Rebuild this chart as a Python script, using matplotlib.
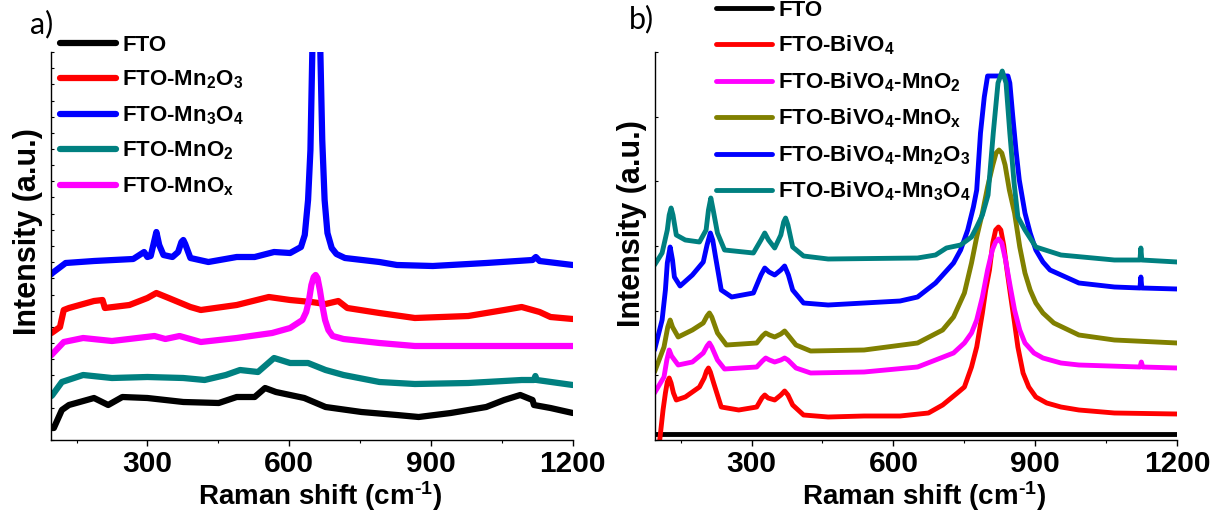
import matplotlib
matplotlib.use("Agg")
import matplotlib.pyplot as plt
from matplotlib.ticker import MultipleLocator
import numpy as np

plt.rcParams['font.family'] = ['Liberation Sans', 'DejaVu Sans']
plt.rcParams['font.weight'] = 'bold'
plt.rcParams['mathtext.fontset'] = 'custom'
plt.rcParams['mathtext.rm'] = 'Liberation Sans:bold'
plt.rcParams['mathtext.it'] = 'Liberation Sans:bold'
plt.rcParams['mathtext.bf'] = 'Liberation Sans:bold'
plt.rcParams['mathtext.default'] = 'rm'

# ---- panel a) spectra (intensity in a.u., read off the picture) ----
a_fto_x = [97, 102, 119, 134, 187, 217, 247, 300, 376, 451, 489, 527, 549, 572, 602, 632, 677, 753, 828,
           874, 942, 1017, 1055, 1089, 1115, 1118, 1153, 1200]
a_fto_y = [12, 12, 30, 35, 42, 35, 43, 42, 38, 37, 43, 43, 52, 48, 45, 42, 33, 28, 25,
           23, 27, 33, 40, 45, 40, 35, 32, 27]

a_mn2o3_x = [97, 100, 115, 123, 134, 187, 205, 210, 262, 300, 319, 345, 391, 413, 489, 557, 602, 647, 677,
             704, 723, 791, 866, 979, 1055, 1092, 1130, 1153, 1200]
a_mn2o3_y = [107, 108, 113, 130, 132, 139, 140, 132, 135, 142, 147, 142, 133, 130, 135, 143, 140, 138, 136,
             139, 132, 127, 122, 124, 130, 133, 128, 123, 121]

a_mn3o4_x = [97, 99, 127, 187, 270, 293, 300, 307, 313, 319, 325, 334, 353, 365, 372, 376, 380, 391, 429,
             489, 527, 568, 602, 625, 633, 640, 645, 649, 657, 666, 670, 675, 681, 690, 700, 718, 791, 828,
             904, 1017, 1115, 1122, 1130, 1200]
a_mn3o4_y = [166, 167, 177, 179, 181, 188, 183, 184, 196, 208, 195, 185, 183, 188, 198, 200, 196, 182, 178,
             183, 183, 188, 187, 193, 205, 240, 290, 388, 470, 388, 300, 240, 207, 192, 186, 182, 178, 175,
             174, 177, 180, 183, 179, 175]

a_mno2_x = [97, 99, 119, 164, 225, 300, 376, 421, 466, 496, 534, 568, 602, 640, 677, 715, 791, 866, 979,
            1092, 1118, 1121, 1124, 1200]
a_mno2_y = [44, 45, 58, 65, 62, 63, 62, 60, 65, 70, 68, 82, 77, 77, 70, 65, 58, 56, 57,
            60, 60, 64, 60, 55]

a_mnox_x = [97, 99, 123, 164, 225, 315, 338, 368, 413, 489, 564, 602, 628, 636, 642, 647, 652, 656, 660,
            665, 670, 676, 683, 692, 715, 791, 866, 1055, 1200]
a_mnox_y = [85, 86, 98, 102, 99, 104, 101, 104, 98, 102, 107, 112, 120, 128, 140, 155, 163, 165, 162,
            150, 135, 120, 110, 104, 101, 97, 94, 94, 94]

# ---- panel b) spectra ----
b_fto_x = [95, 300, 600, 900, 1200]
b_fto_y = [6, 6, 6, 6, 6]

b_bivo4_x = [100, 106, 113, 118, 122, 126, 130, 135, 141, 160, 190, 200, 205, 209, 213, 220, 236, 273,
             311, 322, 328, 335, 349, 362, 370, 377, 387, 410, 462, 538, 614, 674, 704, 735, 750, 765,
             776, 788, 795, 803, 810, 816, 822, 827, 833, 840, 848, 856, 863, 874, 886, 901, 924, 954,
             992, 1067, 1200]
b_bivo4_y = [-25, 0, 30, 47, 58, 62, 57, 47, 40, 43, 53, 62, 69, 72, 68, 57, 33, 30,
             33, 42, 45, 42, 40, 45, 49, 45, 35, 25, 23, 24, 24, 27, 35, 47, 53, 73,
             93, 127, 150, 170, 197, 210, 213, 210, 195, 170, 143, 117, 93, 67, 53, 43, 37, 33,
             30, 27, 26]

b_mno2_x = [95, 115, 121, 126, 131, 145, 175, 198, 206, 211, 216, 228, 243, 311, 323, 330, 338, 349, 362,
            370, 377, 394, 425, 538, 651, 727, 750, 765, 776, 788, 799, 809, 816, 822, 829, 837, 847,
            856, 867, 878, 897, 916, 954, 992, 1121, 1124, 1127, 1200]
b_mno2_y = [47, 63, 80, 90, 84, 75, 78, 87, 94, 97, 93, 80, 71, 73, 79, 82, 80, 78, 80,
            82, 80, 72, 67, 68, 73, 87, 97, 107, 120, 143, 170, 190, 198, 201, 197, 180, 153,
            130, 110, 97, 87, 82, 77, 75, 73, 78, 73, 72]

b_mnox_x = [95, 115, 123, 128, 133, 145, 175, 198, 206, 211, 216, 228, 247, 311, 323, 330, 338, 349, 362,
            370, 377, 394, 425, 538, 651, 704, 727, 750, 765, 776, 788, 799, 810, 817, 823, 829, 836, 845,
            856, 867, 878, 889, 901, 916, 939, 992, 1067, 1200]
b_mnox_y = [68, 93, 113, 120, 113, 103, 110, 117, 124, 127, 123, 107, 95, 97, 104, 107, 105, 103, 106,
            109, 105, 95, 89, 90, 97, 110, 123, 147, 177, 203, 227, 253, 275, 287, 290, 287, 275, 250,
            227, 193, 167, 150, 137, 127, 117, 105, 100, 97]

b_mn2o3_x = [95, 111, 118, 122, 128, 133, 137, 149, 175, 198, 206, 213, 218, 224, 236, 258, 304, 320, 328,
             337, 349, 362, 370, 378, 387, 410, 462, 538, 614, 651, 689, 727, 742, 757, 769, 776, 784, 792,
             799, 842, 846, 852, 859, 866, 878, 889, 901, 916, 931, 992, 1067, 1121, 1123, 1125, 1200]
b_mn2o3_y = [90, 120, 150, 177, 193, 180, 163, 154, 165, 178, 195, 207, 200, 183, 150, 143, 147, 165, 172,
             168, 165, 170, 174, 165, 150, 137, 135, 137, 139, 143, 157, 177, 190, 210, 233, 250, 307, 343,
             364, 364, 357, 325, 290, 260, 227, 207, 190, 178, 170, 157, 153, 152, 163, 152, 151]

b_mn3o4_x = [95, 111, 122, 126, 130, 134, 141, 160, 190, 204, 209, 214, 219, 228, 243, 304, 320, 328, 336,
             349, 362, 368, 372, 377, 387, 410, 462, 651, 689, 712, 742, 765, 776, 788, 800, 811, 821, 830,
             838, 846, 855, 863, 878, 901, 954, 1067, 1121, 1123, 1125, 1200]
b_mn3o4_y = [175, 187, 210, 225, 232, 225, 205, 200, 198, 210, 230, 242, 230, 207, 190, 187, 200, 207, 200,
             192, 205, 218, 222, 215, 193, 184, 181, 182, 185, 192, 195, 203, 213, 225, 245, 307, 357, 369,
             357, 307, 257, 223, 210, 193, 185, 180, 180, 192, 180, 178]

a_labels = ['FTO', 'FTO-Mn$_2$O$_3$', 'FTO-Mn$_3$O$_4$', 'FTO-MnO$_2$', 'FTO-MnO$_x$']
b_labels = ['FTO', 'FTO-BiVO$_4$', 'FTO-BiVO$_4$-MnO$_2$', 'FTO-BiVO$_4$-MnO$_x$',
            'FTO-BiVO$_4$-Mn$_2$O$_3$', 'FTO-BiVO$_4$-Mn$_3$O$_4$']

fig = plt.figure(figsize=(12.15, 5.21), dpi=100)
ax1 = fig.add_axes([51/1215, 81/521, (572.7-51)/1215, 388/521])
ax2 = fig.add_axes([655/1215, 81/521, (1177.3-655)/1215, 388/521])

a_series = [(a_fto_x, a_fto_y, 'black'), (a_mn2o3_x, a_mn2o3_y, '#ff0000'),
            (a_mn3o4_x, a_mn3o4_y, '#0000ff'), (a_mno2_x, a_mno2_y, '#008080'),
            (a_mnox_x, a_mnox_y, '#ff00ff')]
for (x, y, c), lab in zip(a_series, a_labels):
    ax1.plot(x, y, color=c, lw=4.5, label=lab, solid_joinstyle='round', solid_capstyle='round')

b_series = [(b_fto_x, b_fto_y, 'black'), (b_bivo4_x, b_bivo4_y, '#ff0000'),
            (b_mno2_x, b_mno2_y, '#ff00ff'), (b_mnox_x, b_mnox_y, '#808000'),
            (b_mn2o3_x, b_mn2o3_y, '#0000ff'), (b_mn3o4_x, b_mn3o4_y, '#008080')]
for (x, y, c), lab in zip(b_series, b_labels):
    ax2.plot(x, y, color=c, lw=3.5, label=lab, solid_joinstyle='round', solid_capstyle='round')

for ax, nt, ly in ((ax1, 25, 0.536), (ax2, 7, 0.558)):
    ax.set_xlim(96, 1200)
    ax.set_ylim(0, 388)
    ax.spines['top'].set_visible(False)
    ax.spines['right'].set_visible(False)
    for s in ('left', 'bottom'):
        ax.spines[s].set_linewidth(1.0)
    ax.xaxis.set_major_locator(MultipleLocator(300))
    ax.xaxis.set_minor_locator(MultipleLocator(150))
    ax.set_yticks(np.linspace(0, 388, nt))
    ax.tick_params(axis='x', which='major', direction='out', length=4.5, width=1,
                   labelsize=21.5, pad=2.5)
    ax.tick_params(axis='x', which='minor', direction='out', length=2, width=0.8)
    ax.tick_params(axis='y', direction='in', length=2.5, width=0.8, labelleft=False)
    ax.set_xlabel(r'Raman shift (cm$^{\text{-}1}$)', fontsize=20, fontweight='bold', labelpad=1)
    ax.xaxis.label.set_x(0.515)
    ax.set_ylabel('Intensity (a.u.)', fontsize=22, fontweight='bold', labelpad=6)
    ax.yaxis.label.set_y(ly)

ax1.legend(loc='upper left', bbox_to_anchor=(60/1215, 1 - 35/521), bbox_transform=fig.transFigure,
           frameon=False, fontsize=16, handlelength=2.5, handletextpad=0.3, labelspacing=0.58,
           borderpad=0, borderaxespad=0)
ax2.legend(loc='upper left', bbox_to_anchor=(716/1215, 1.0), bbox_transform=fig.transFigure,
           frameon=False, fontsize=16, handlelength=2.5, handletextpad=0.3, labelspacing=0.58,
           borderpad=0, borderaxespad=0)

fig.text(42/1215, 1 - 24/521, 'a)', family=['Lato', 'DejaVu Sans'], fontweight='normal',
         fontsize=22, ha='center', va='center')
fig.text(641/1215, 1 - 19/521, 'b)', family=['Lato', 'DejaVu Sans'], fontweight='normal',
         fontsize=22, ha='center', va='center')

fig.savefig('out.png', dpi=100)
